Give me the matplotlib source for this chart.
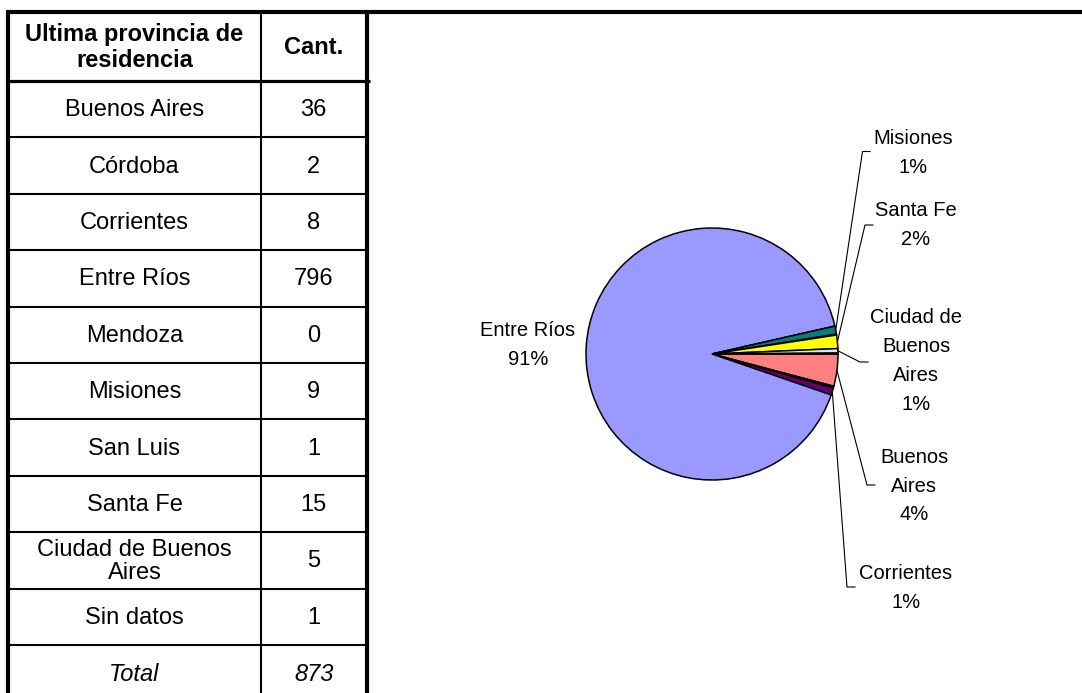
import numpy as np
import matplotlib
matplotlib.use("Agg")
import matplotlib.pyplot as plt

plt.rcParams['font.family'] = ['Liberation Sans', 'DejaVu Sans']

provincias = ["Buenos Aires", "Córdoba", "Corrientes", "Entre Ríos", "Mendoza",
              "Misiones", "San Luis", "Santa Fe", "Ciudad de Buenos\nAires", "Sin datos"]
cantidades = [36, 2, 8, 796, 0, 9, 1, 15, 5, 1]
total = sum(cantidades)

colores = ["#FF8080", "#000080", "#660066", "#9999FF", "#FFFFCC",
           "#008080", "#000000", "#FFFF00", "#E6E6E6", "#222222"]

# etiquetas del grafico: indice -> (texto, pos texto, codo del conector, fin del conector)
etiquetas = {
    3: ("Entre Ríos", (528, 345), None, None),
    5: ("Misiones", (913, 153), (862.5, 151.5), 870),
    7: ("Santa Fe", (916, 225), (865, 225), 873),
    8: ("Ciudad de\nBuenos\nAires", (916, 361), (860, 362), 868),
    0: ("Buenos\nAires", (914, 486), (867, 485), 875),
    2: ("Corrientes", (906, 588), (847, 587), 855),
}

fig = plt.figure(figsize=(10.82, 6.93), dpi=100)
ax = fig.add_axes([0, 0, 1, 1])

# ---- tabla ----
x_izq, x_div, x_der = 8, 261, 366.5
y_top, y_head = 12, 81
alto_fila = 56.4
filas = len(provincias) + 1

ax.plot([x_izq - 2, 1082], [y_top, y_top], color="black", lw=3, solid_capstyle="butt")
ax.plot([x_izq, x_izq], [y_top, 693], color="black", lw=3, solid_capstyle="butt")
ax.plot([x_der, x_der], [y_top, 693], color="black", lw=3, solid_capstyle="butt")
ax.plot([x_div, x_div], [y_top, 693], color="black", lw=1.5, solid_capstyle="butt")
ax.plot([x_izq, x_der + 3], [y_head, y_head], color="black", lw=2.3, solid_capstyle="butt")

ax.text((x_izq + x_div) / 2, (y_top + y_head) / 2 + 1, "Ultima provincia de\nresidencia",
        ha="center", va="center", fontsize=17, fontweight="bold", linespacing=1.2)
ax.text((x_div + x_der) / 2, (y_top + y_head) / 2 + 1, "Cant.",
        ha="center", va="center", fontsize=17, fontweight="bold")

for i in range(filas):
    y0 = y_head + i * alto_fila
    yc = y0 + alto_fila / 2
    if i > 0:
        ax.plot([x_izq, x_der], [y0, y0], color="black", lw=1.5, solid_capstyle="butt")
    if i < len(provincias):
        nombre, valor, estilo = provincias[i], str(cantidades[i]), "normal"
    else:
        nombre, valor, estilo = "Total", str(total), "italic"
    ax.text((x_izq + x_div) / 2, yc + 1, nombre, ha="center", va="center",
            fontsize=17, style=estilo, linespacing=1.05)
    ax.text((x_div + x_der) / 2, yc + 1, valor, ha="center", va="center",
            fontsize=17, style=estilo)

# ---- grafico de torta ----
centro = (712, 354)
radio = 126
wedges, _ = ax.pie(cantidades, colors=colores, startangle=0, counterclock=True,
                   center=centro, radius=radio,
                   wedgeprops=dict(edgecolor="black", linewidth=1.1))

for idx, (texto, pos, codo, fin) in etiquetas.items():
    pct = 100 * cantidades[idx] / total
    ax.text(pos[0], pos[1], f"{texto}\n{pct:.0f}%", ha="center", va="center",
            fontsize=14.5, linespacing=1.65)
    if codo is not None:
        w = wedges[idx]
        ang = np.deg2rad((w.theta1 + w.theta2) / 2)
        x0 = centro[0] + radio * np.cos(ang)
        y0 = centro[1] + radio * np.sin(ang)
        ax.plot([x0, codo[0], fin], [y0, codo[1], codo[1]], color="black", lw=0.8)

ax.set_xlim(0, 1082)
ax.set_ylim(693, 0)
ax.set_aspect("auto")
ax.axis("off")

fig.savefig("out.png", dpi=100, facecolor="white")
